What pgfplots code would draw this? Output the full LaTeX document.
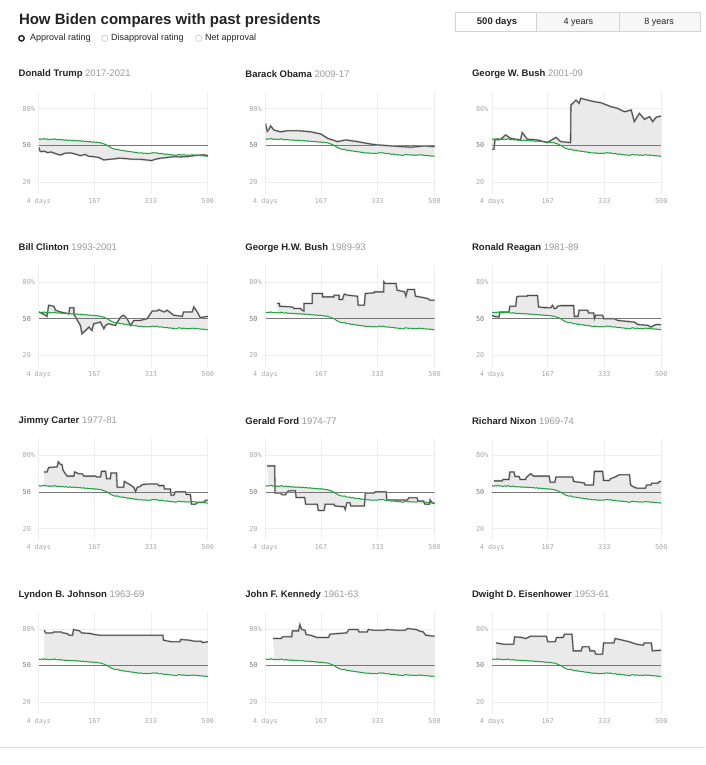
\documentclass[border=0pt]{standalone}
\usepackage{fontspec}
\setmainfont{Liberation Sans}
\newfontfamily\monofont{DejaVu Sans Mono}
\usepackage{pgfplots}
\pgfplotsset{compat=1.18}
\usepackage{pgfplotstable}
\usepgfplotslibrary{fillbetween}

\definecolor{bidengreen}{HTML}{1FA33F}
\definecolor{presline}{HTML}{484848}
\definecolor{presshadow}{HTML}{A8A8A8}
\definecolor{areafill}{HTML}{EAEAEA}
\definecolor{gridc}{HTML}{EEEEEE}
\definecolor{ticklab}{HTML}{A8A8A8}
\definecolor{fiftylab}{HTML}{777777}
\definecolor{fiftyline}{HTML}{777777}
\definecolor{yearc}{HTML}{9A9A9A}
\definecolor{namec}{HTML}{222222}
\definecolor{btnborder}{HTML}{D3D3D3}
\definecolor{btnfill}{HTML}{F7F7F7}
\definecolor{radiogrey}{HTML}{C4C4C4}
\definecolor{rulec}{HTML}{DDDDDD}

% Biden approval, day of term vs. per cent
\pgfplotstableread{
day val
4 55.5
8 54.8
12 55.3
16 55.0
20 55.6
25 54.9
30 55.2
35 54.6
40 55.1
45 54.7
50 55.4
55 54.8
60 54.5
65 55.0
70 54.3
75 54.6
80 54.1
85 54.5
90 53.9
95 54.3
100 53.8
105 54.2
110 53.6
115 54.0
120 53.5
125 53.8
130 53.2
135 53.6
140 53.0
145 53.3
150 52.8
155 53.1
160 52.5
165 52.9
170 52.3
175 52.6
180 52.0
185 52.2
190 51.5
195 51.2
200 50.6
205 50.0
210 49.0
215 48.2
220 47.5
225 47.0
230 46.6
235 46.9
240 46.2
245 45.8
250 46.0
255 45.3
260 45.5
265 44.9
270 45.1
275 44.5
280 44.7
285 44.1
290 44.3
295 43.8
300 43.6
305 43.9
310 43.4
315 43.6
320 43.2
325 43.5
330 43.3
335 43.7
340 44.0
345 43.6
350 43.9
355 43.3
360 43.1
365 43.4
370 42.8
375 42.6
380 42.9
385 42.3
390 42.5
395 42.0
400 42.2
405 41.6
410 41.9
415 42.6
420 42.3
425 42.0
430 42.3
435 41.8
440 42.1
445 41.7
450 42.0
455 42.3
460 41.9
465 42.1
470 41.6
475 41.8
480 41.4
485 41.6
490 41.1
495 41.3
500 40.8
}\biden

\pgfplotstableread{
day val
4 48.5
7 45.5
12 44.8
20 45.2
30 44.0
40 44.5
55 43.0
68 42.0
80 43.5
95 43.8
102 43.5
115 42.5
126 41.5
140 42.5
150 41.0
165 40.7
180 40.0
195 38.0
210 38.5
224 38.8
240 39.5
263 39.0
280 38.5
302 38.5
320 38.0
335 37.5
345 38.5
361 39.4
380 40.0
400 40.7
420 40.5
439 40.7
460 41.5
478 42.0
490 42.2
500 41.5
}\trump

\pgfplotstableread{
day val
4 68.0
9 61.5
14 63.0
19 65.8
29 62.5
48 61.0
70 62.0
97 62.0
120 61.5
137 61.0
166 59.3
186 55.7
200 54.5
215 53.0
240 54.4
274 53.0
313 51.0
333 50.3
372 49.5
400 49.0
431 48.4
470 49.5
500 48.9
}\obama

\pgfplotstableread{
day val
4 46.7
9 46.7
12 54.4
29 54.8
43 58.5
58 55.7
87 54.4
92 60.4
107 55.0
137 54.4
166 52.2
191 56.5
205 53.0
234 52.2
235 83.0
250 87.0
259 84.4
264 88.5
284 87.0
304 85.7
323 84.9
353 81.6
372 80.3
392 77.5
412 78.9
421 69.4
436 76.2
451 71.3
466 73.5
475 69.4
485 73.0
500 74.0
}\gwbush

\pgfplotstableread{
day val
4 55.5
19 53.6
28 51.9
33 61.0
48 60.2
53 56.9
68 55.5
92 54.0
95 59.0
107 59.0
107 53.6
116 49.2
126 44.5
131 37.6
141 40.3
151 43.1
160 40.3
165 45.9
185 47.2
195 41.7
200 44.5
209 45.9
229 44.5
244 51.4
253 52.8
263 50.0
273 44.5
283 48.6
302 48.6
322 50.0
337 56.3
351 56.3
356 57.4
371 55.5
381 56.9
400 52.8
425 51.9
429 55.5
454 55.5
459 59.6
469 55.5
478 50.8
488 51.4
500 51.9
}\clinton

\pgfplotstableread{
day val
38 62.4
45 62.4
45 60.2
83 59.6
87 58.3
107 58.3
112 56.9
117 56.3
117 62.4
141 62.4
141 70.6
171 70.6
171 67.9
205 67.9
205 69.3
220 69.3
220 65.7
230 65.7
235 70.1
245 69.3
274 68.4
276 61.0
294 61.0
297 70.6
323 71.2
323 72.0
351 72.0
351 80.3
355 78.9
387 78.9
390 73.4
412 72.0
416 68.4
421 73.9
441 73.9
444 68.4
456 67.9
480 66.5
487 65.1
500 65.1
}\ghwbush

\pgfplotstableread{
day val
4 52.8
9 51.9
24 51.4
27 55.5
53 55.5
56 60.2
73 60.2
76 67.9
83 68.4
107 68.4
107 69.0
137 69.0
140 59.6
156 59.1
176 59.0
181 61.0
186 58.3
191 58.3
196 60.2
205 60.7
243 60.7
245 51.9
256 51.9
259 56.9
284 56.9
287 54.7
302 54.7
304 50.0
308 52.8
328 52.8
331 50.0
362 50.0
372 48.6
392 48.0
421 47.2
431 45.3
461 44.5
470 43.1
485 45.3
500 45.0
}\reagan

\pgfplotstableread{
day val
19 66.5
28 66.5
33 70.1
58 70.7
61 74.8
68 72.6
72 72.6
75 67.9
87 63.1
107 63.1
109 66.5
121 65.1
131 65.1
136 63.1
170 63.1
175 62.3
185 62.3
188 67.0
200 67.0
203 60.9
214 60.9
216 65.6
232 65.6
234 53.9
253 53.9
255 58.7
268 56.7
283 53.9
288 50.3
293 53.9
302 54.7
307 56.1
327 56.7
351 56.7
356 55.3
371 55.3
373 52.5
390 52.5
392 47.5
400 47.5
405 50.3
434 50.3
437 48.0
449 48.0
452 40.0
464 40.0
469 41.3
490 41.9
493 43.3
500 43.3
}\carter

\pgfplotstableread{
day val
9 71.5
31 71.5
32 49.2
48 49.2
53 47.8
63 47.8
66 49.7
73 51.1
92 51.1
94 45.5
119 45.5
122 40.0
156 40.0
159 35.0
176 35.0
179 40.0
205 40.0
208 38.6
235 38.0
238 35.8
243 41.3
252 41.3
254 38.6
294 38.6
297 49.2
323 49.2
326 50.3
358 50.3
360 43.6
421 43.6
424 45.3
449 45.3
451 42.7
468 42.7
472 40.0
485 40.0
487 43.6
493 41.3
500 40.5
}\ford

\pgfplotstableread{
day val
9 59.2
33 59.2
36 60.3
53 60.3
56 66.5
68 66.5
71 62.8
83 62.8
86 60.3
102 60.3
105 62.3
117 65.1
125 63.1
171 63.1
174 58.1
188 58.1
191 62.3
240 62.3
243 58.7
274 57.5
276 55.9
301 55.9
304 67.0
328 67.0
331 59.5
348 59.5
351 60.9
364 62.3
377 64.2
407 64.2
410 55.9
421 53.9
431 53.1
454 53.1
457 55.9
470 55.9
472 57.3
490 57.3
495 58.7
500 58.7
}\nixon

\pgfplotstableread{
day val
20 78.9
24 76.7
44 76.7
48 77.5
70 77.5
74 76.7
87 76.2
93 74.8
103 74.8
106 79.5
123 78.4
130 76.7
156 76.2
163 75.6
183 74.8
368 74.8
370 70.7
394 69.4
418 69.4
421 71.3
447 70.7
460 69.9
480 69.9
484 68.8
500 69.4
}\lbj

\pgfplotstableread{
day val
26 72.1
50 72.1
54 73.5
81 73.5
83 78.4
101 78.4
105 83.5
110 79.5
120 78.9
123 75.4
136 74.8
156 72.9
189 72.9
193 75.6
216 76.2
242 76.7
249 79.5
275 79.5
279 77.5
302 77.5
306 79.5
321 78.9
355 78.9
359 79.5
388 78.9
414 78.9
421 80.3
447 79.5
454 78.4
467 77.5
474 74.8
500 74.0
}\jfk

\pgfplotstableread{
day val
15 68.5
37 67.5
67 67.5
70 73.5
90 73.0
103 72.1
116 74.0
163 74.0
167 69.4
189 69.4
193 72.9
212 72.9
216 75.6
238 75.6
242 62.0
265 62.0
269 65.3
288 65.3
291 62.0
304 62.0
308 59.3
328 59.3
331 68.5
361 68.5
365 72.1
378 71.3
407 69.4
427 67.5
447 66.6
450 68.5
471 68.5
474 62.0
500 62.5
}\ike

\pgfplotsset{
  panel/.style={
    scale only axis, width=169pt, height=102.5pt,
    xmin=4, xmax=500, ymin=10, ymax=94,
    axis line style={draw=none},
    major tick length=0pt,
    xtick={4,167,333,500}, xticklabels={4 days,167,333,500},
    ytick={20,50,80},
    yticklabels={20,\textcolor{fiftylab}{50},80\rlap{\%}},
    grid=major, major grid style={gridc, line width=0.7pt},
    ticklabel style={font=\monofont\fontsize{6.8}{7}\selectfont, text=ticklab},
    xticklabel style={anchor=base, yshift=-9pt},
    yticklabel style={anchor=east, xshift=-4.4pt},
  }
}

% #1 column, #2 row, #3 name, #4 years, #5 table, #6 first day
\newcommand\panel[6]{%
  \node[anchor=west, inner sep=0pt, font=\fontsize{9.5}{10}\selectfont]
    at ({18pt+#1*226.7pt},{-74pt-#2*173.6pt})
    {\textbf{\textcolor{namec}{#3}} \textcolor{yearc}{#4}};
  \begin{axis}[panel, at={({38.3pt+#1*226.7pt},{-194.1pt-#2*173.4pt})}, anchor=south west]
    \addplot[draw=none, name path=p] table {#5};
    \addplot[draw=none, name path=b, restrict x to domain=#6:500] table {\biden};
    \addplot[areafill] fill between[of=p and b];
    \addplot[fiftyline, line width=0.9pt] coordinates {(4,50) (500,50)};
    \addplot[presshadow, line width=1.8pt] table {#5};
    \addplot[presline, line width=0.8pt] table {#5};
    \addplot[bidengreen, line width=1pt] table {\biden};
  \end{axis}}

\begin{document}
\begin{tikzpicture}
% page frame (no fill, so that the lower layers stay visible)
\path (0,0) rectangle (704pt,-765pt);

% header
\node[anchor=base west, inner sep=0pt, font=\bfseries\fontsize{15}{18}\selectfont, text=namec]
  at (18.3pt,-25pt) {How Biden compares with past presidents};
\draw[namec, line width=1.4pt] (21pt,-38.3pt) circle (2.7pt);
\node[anchor=west, inner sep=0pt, font=\fontsize{9}{10}\selectfont, text=namec]
  at (29.3pt,-38.3pt) {Approval rating};
\draw[radiogrey, line width=0.6pt] (104.3pt,-38.3pt) circle (3.2pt);
\node[anchor=west, inner sep=0pt, font=\fontsize{9}{10}\selectfont, text=namec]
  at (110.5pt,-38.3pt) {Disapproval rating};
\draw[radiogrey, line width=0.6pt] (198.3pt,-38.3pt) circle (3.2pt);
\node[anchor=west, inner sep=0pt, font=\fontsize{9}{10}\selectfont, text=namec]
  at (204.5pt,-38.3pt) {Net approval};

% period buttons
\fill[btnfill] (536.3pt,-12.7pt) rectangle (700.3pt,-31.7pt);
\draw[btnborder, line width=0.8pt] (455.3pt,-12.7pt) rectangle (700.3pt,-31.7pt);
\draw[btnborder, line width=0.8pt] (536.3pt,-12.7pt) -- (536.3pt,-31.7pt);
\draw[btnborder, line width=0.8pt] (618.7pt,-12.7pt) -- (618.7pt,-31.7pt);
\node[font=\bfseries\fontsize{9.5}{10}\selectfont, text=namec] at (496.5pt,-22.3pt) {500 days};
\node[font=\fontsize{9}{10}\selectfont, text=namec] at (577.8pt,-22.3pt) {4 years};
\node[font=\fontsize{9}{10}\selectfont, text=namec] at (658.7pt,-22.3pt) {8 years};

\panel{0}{0}{Donald Trump}{2017-2021}{\trump}{4}
\panel{1}{0}{Barack Obama}{2009-17}{\obama}{4}
\panel{2}{0}{George W. Bush}{2001-09}{\gwbush}{4}
\panel{0}{1}{Bill Clinton}{1993-2001}{\clinton}{4}
\panel{1}{1}{George H.W. Bush}{1989-93}{\ghwbush}{38}
\panel{2}{1}{Ronald Reagan}{1981-89}{\reagan}{4}
\panel{0}{2}{Jimmy Carter}{1977-81}{\carter}{19}
\panel{1}{2}{Gerald Ford}{1974-77}{\ford}{9}
\panel{2}{2}{Richard Nixon}{1969-74}{\nixon}{9}
\panel{0}{3}{Lyndon B. Johnson}{1963-69}{\lbj}{20}
\panel{1}{3}{John F. Kennedy}{1961-63}{\jfk}{26}
\panel{2}{3}{Dwight D. Eisenhower}{1953-61}{\ike}{15}

\draw[rulec, line width=1pt] (0,-747pt) -- (704pt,-747pt);
\end{tikzpicture}
\end{document}
